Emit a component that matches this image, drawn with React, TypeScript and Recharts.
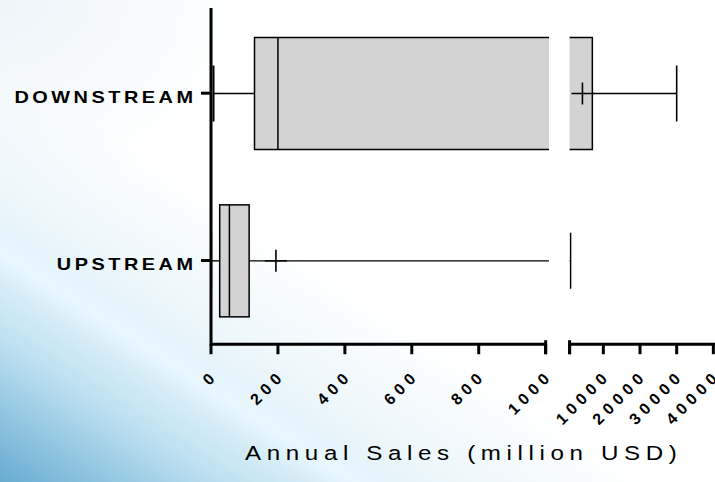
import React from 'react';
import { BarChart, Bar, XAxis, YAxis } from 'recharts';

// five-number summaries plus mean, one entry per group
const groups = ['DOWNSTREAM', 'UPSTREAM'];
const minima = [7.5, 0.5];
const lowerQuartiles = [130, 26];
const medians = [200, 55];
const upperQuartiles = [7000, 114];
const maxima = [30000, 1050];
const means = [4300, 194];

// broken x axis: a linear 0-1000 segment and a compressed segment up to 40000
const lowTicks = [0, 200, 400, 600, 800, 1000];
const highTicks = [10000, 20000, 30000, 40000];
const lowDomain = [0, 1010];
const highDomain = [800, 40450];

const rows = groups.map((group, i) => ({
  group,
  box: [lowerQuartiles[i], upperQuartiles[i]],
  min: minima[i],
  q1: lowerQuartiles[i],
  median: medians[i],
  q3: upperQuartiles[i],
  max: maxima[i],
  mean: means[i],
}));

const FONT = '"Liberation Sans", Arial, Helvetica, sans-serif';
const W = 715;
const H = 482;
const TOP = 9.5;
const AXIS_H = 137.8;

// box + whiskers + mean cross; positions come from the bar's own scaled q1/q3 edges
const BoxShape = (props: any) => {
  const { x, y, width, height, payload, background } = props;
  const { q1, q3 } = payload;
  const k = width / (q3 - q1);
  const px = (v: number) => x + (v - q1) * k;
  const cy = y + height / 2;
  const cap = height / 4;
  const xMin = px(payload.min);
  const xMax = px(payload.max);
  const xMed = px(payload.median);
  const xMean = px(payload.mean);
  // the mean symbol is only drawn when it falls inside this axis segment
  const meanVisible = !background || (xMean >= background.x && xMean <= background.x + background.width);
  return (
    <g>
      <line x1={xMin} x2={x} y1={cy} y2={cy} stroke="#000" strokeWidth={1.4} />
      <line x1={x + width} x2={xMax} y1={cy} y2={cy} stroke="#000" strokeWidth={1.4} />
      <line x1={xMin} x2={xMin} y1={cy - cap} y2={cy + cap} stroke="#000" strokeWidth={2} />
      <line x1={xMax} x2={xMax} y1={cy - cap} y2={cy + cap} stroke="#000" strokeWidth={1.6} />
      <rect x={x} y={y} width={width} height={height} fill="#d3d3d3" stroke="#000" strokeWidth={1.5} />
      <line x1={xMed} x2={xMed} y1={y} y2={y + height} stroke="#000" strokeWidth={1.5} />
      {meanVisible && (
        <g>
          <line x1={xMean - 11} x2={xMean + 11} y1={cy} y2={cy} stroke="#000" strokeWidth={1.4} />
          <line x1={xMean} x2={xMean} y1={cy - 11} y2={cy + 11} stroke="#000" strokeWidth={1.6} />
        </g>
      )}
    </g>
  );
};

// rotated tick labels; the break tick gets a short upward mark
const makeXTick = (breakAt: number, labelBreak: boolean) => (props: any) => {
  const { x, y, payload } = props;
  const v = payload.value;
  const isBreak = v === breakAt;
  const ax = x + 8.2;
  const ay = y + 22.3;
  return (
    <g>
      {isBreak && <line x1={x} x2={x} y1={y - 14} y2={y} stroke="#000" strokeWidth={3} />}
      {(!isBreak || labelBreak) && (
        <text
          x={ax}
          y={ay}
          transform={`rotate(-45 ${ax} ${ay})`}
          textAnchor="end"
          fontFamily={FONT}
          fontWeight="bold"
          fontSize={16}
          letterSpacing={5}
          fill="#000"
        >
          {v}
        </text>
      )}
    </g>
  );
};

const GroupTick = (props: any) => {
  const { x, y, payload } = props;
  return (
    <g transform={`translate(${x - 4.5},${y + 9.8}) scale(1.17,1)`}>
      <text x={0} y={0} textAnchor="end" fontFamily={FONT} fontWeight="bold" fontSize={17} letterSpacing={3} fill="#000">
        {payload.value}
      </text>
    </g>
  );
};

const AxisTitle = () => (
  <g transform="translate(245,459.5) scale(1.15,1)">
    <text x={0} y={0} fontFamily={FONT} fontSize={21} letterSpacing={4.9} fill="#000">
      Annual Sales (million USD)
    </text>
  </g>
);

const axisStroke = { stroke: '#000', strokeWidth: 3 };

export default function App() {
  return (
    <div
      style={{
        position: 'absolute',
        left: 0,
        top: 0,
        width: W,
        height: H,
        overflow: 'hidden',
        background:
          'linear-gradient(33deg, rgba(255,255,255,0) 21%, rgba(236,250,255,0.75) 24.5%, rgba(255,255,255,0) 28%), ' +
          'linear-gradient(33deg, #68acd1 0%, #8ec4e0 7%, #bde0f0 15%, #d6edf7 21%, #edf7fb 31%, rgba(255,255,255,0) 45%), ' +
          'radial-gradient(ellipse 260px 200px at 0% 0%, #eef5f9 0%, rgba(255,255,255,0) 100%), #ffffff',
      }}
    >
      <div style={{ position: 'absolute', left: 0, top: 0 }}>
        <BarChart
          width={W}
          height={H}
          data={rows}
          layout="vertical"
          margin={{ top: TOP, right: W - 549, bottom: 0, left: 0 }}
        >
          <Bar dataKey="box" barSize={112} shape={BoxShape} isAnimationActive={false} />
          <YAxis
            type="category"
            dataKey="group"
            width={211}
            axisLine={{ ...axisStroke, strokeLinecap: 'square' }}
            tickLine={axisStroke}
            tickSize={10}
            tickMargin={0}
            tick={GroupTick}
          />
          <XAxis
            type="number"
            domain={lowDomain}
            allowDataOverflow
            ticks={lowTicks}
            interval={0}
            height={AXIS_H}
            axisLine={{ ...axisStroke, strokeDasharray: '336 400' }}
            tickLine={axisStroke}
            tickSize={10}
            tickMargin={0}
            tick={makeXTick(1000, true)}
            label={() => <AxisTitle />}
          />
        </BarChart>
      </div>
      <div style={{ position: 'absolute', left: 0, top: 0 }}>
        <BarChart
          width={W}
          height={H}
          data={rows}
          layout="vertical"
          margin={{ top: TOP, right: 0, bottom: 0, left: 569.6 }}
        >
          <Bar dataKey="box" barSize={112} shape={BoxShape} isAnimationActive={false} />
          <YAxis type="category" dataKey="group" hide />
          <XAxis
            type="number"
            domain={highDomain}
            allowDataOverflow
            ticks={[highDomain[0], ...highTicks]}
            interval={0}
            height={AXIS_H}
            axisLine={axisStroke}
            tickLine={axisStroke}
            tickSize={10}
            tickMargin={0}
            tick={makeXTick(highDomain[0], false)}
          />
        </BarChart>
      </div>
    </div>
  );
}
